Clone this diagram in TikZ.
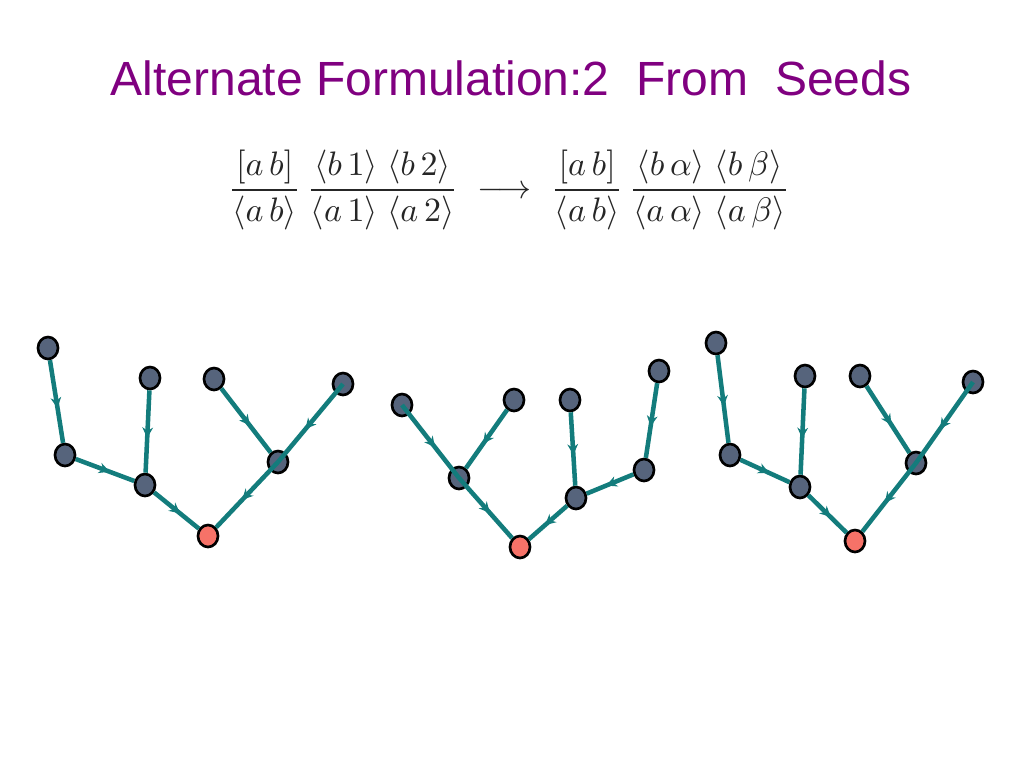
\documentclass[tikz,border=0pt]{standalone}
\usepackage{fontspec}
\setmainfont{Liberation Sans}
\usepackage{amsmath}
\usetikzlibrary{arrows.meta,decorations.markings,shapes.geometric}
\definecolor{titlepurple}{RGB}{128,0,128}
\definecolor{seedblue}{RGB}{86,100,124}
\definecolor{rootred}{RGB}{246,114,104}
\definecolor{flowteal}{RGB}{19,124,124}
\begin{document}
\begin{tikzpicture}[x=0.75pt,y=-0.75pt,
                    seed/.style={ellipse,draw=black,line width=2pt,fill=seedblue,
                                 minimum width=15pt,minimum height=16.5pt,inner sep=0pt},
                    root/.style={seed,fill=rootred},
                    flow/.style={flowteal,line width=3.4pt,postaction={decorate},
                                 decoration={markings,mark=at position 0.58 with
                                 {\arrow[flowteal]{Stealth[length=8pt,width=8pt]}}}}]
                    \useasboundingbox (0,0) rectangle (1024,768);
                    \node[titlepurple,font=\fontsize{36}{42}\selectfont] (title) at (511,78)
                      {Alternate Formulation:2\ \ From\ \ Seeds};
                    \node[black!85] (rule) at (509,190) {\resizebox{421pt}{!}{$\dfrac{[a\,b]}{\langle a\,b\rangle}\,
                      \dfrac{\langle b\,1\rangle\;\langle b\,2\rangle}{\langle a\,1\rangle\;\langle a\,2\rangle}
                      \;\longrightarrow\;\dfrac{[a\,b]}{\langle a\,b\rangle}\,
                      \dfrac{\langle b\,\alpha\rangle\;\langle b\,\beta\rangle}{\langle a\,\alpha\rangle\;\langle a\,\beta\rangle}$}};
                    % seeds and inner vertices
                    \foreach \n/\x/\y in {a1/48/348,a2/150/378,a3/214/379,a4/343/384,
                                          b1/65/455,b2/145/485,b3/278/462,
                                          c1/402/405,c2/514/400,c3/570/400,c4/659/371,
                                          d1/459/478,d2/576/498,d3/644/470,
                                          e1/716/343,e2/805/376,e3/860/376,e4/973/382,
                                          f1/730/455,f2/800/487,f3/916/463}{
                      \node[seed] (\n) at (\x,\y) {};
                    }
                    \node[root] (r1) at (208,536) {};
                    \node[root] (r2) at (520,547) {};
                    \node[root] (r3) at (855,541) {};
                    \foreach \s/\t in {a1/b1,b1/b2,a2/b2,b2/r1,a3/b3,
                                       c2/d1,c3/d2,c4/d3,d3/d2,d2/r2,
                                       e1/f1,f1/f2,e2/f2,f2/r3,e3/f3}{
                      \draw[flow] (\s) -- (\t);
                    }
                    % long branches run over the middle vertex
                    \foreach \s/\m/\t in {a4/b3/r1,c1/d1/r2,e4/f3/r3}{
                      \draw[flow] (\s.center) -- (\m.center);
                      \draw[flow] (\m.center) -- (\t);
                    }
\end{tikzpicture}
\end{document}
